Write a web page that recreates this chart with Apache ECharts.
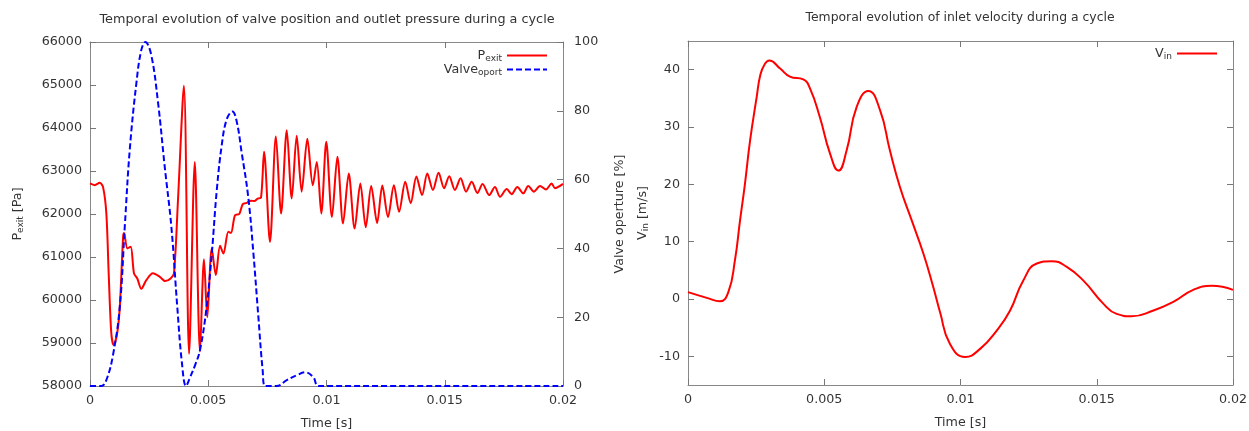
<!DOCTYPE html>
<html>
<head>
<meta charset="utf-8">
<script src="https://cdn.jsdelivr.net/npm/echarts@6/dist/echarts.min.js"></script>
<style>
html, body { margin: 0; padding: 0; background: #fff; }
#main { width: 1249px; height: 431px; }
</style>
</head>
<body>
<div id="main"></div>
<script>
// time values are in ms, axis labels show seconds
var pTime = [0, 0.2, 0.41, 0.55, 0.69, 0.79, 0.90, 1.00, 1.15, 1.26, 1.40, 1.44, 1.58, 1.72, 1.86, 2.00, 2.17, 2.38, 2.66, 2.95,
  3.18, 3.41, 3.55, 3.72, 3.97, 4.19, 4.43, 4.65, 4.82, 4.96, 5.15, 5.32, 5.50, 5.64, 5.85, 5.96, 6.13, 6.31, 6.46, 6.63,
  6.81, 6.95, 7.09, 7.23, 7.36, 7.61, 7.86, 8.08, 8.32, 8.53, 8.74, 8.95, 9.19, 9.42, 9.59, 9.78, 9.99, 10.23, 10.46, 10.70,
  10.94, 11.19, 11.43, 11.66, 11.89, 12.14, 12.36, 12.60, 12.85, 13.07, 13.33, 13.56, 13.80, 14.04, 14.26, 14.50, 14.74, 14.97, 15.19, 15.43,
  15.67, 15.90, 16.14, 16.38, 16.60, 16.88, 17.12, 17.34, 17.62, 17.83, 18.07, 18.32, 18.53, 18.77, 19.03, 19.28, 19.52, 19.66, 20.00];
var pExit = [62710, 62670, 62725, 62630, 62020, 60620, 59230, 58950, 59230, 59840, 61470, 61560, 61200, 61240, 60620, 60500, 60260, 60460, 60620, 60540,
  60440, 60500, 60620, 62320, 64980, 58750, 63210, 58800, 60950, 59600, 61200, 60580, 61260, 61080, 61590, 61560, 61970, 62000, 62230, 62260,
  62310, 62300, 62360, 62380, 63450, 61350, 63800, 62010, 63950, 62360, 63820, 62520, 63750, 62670, 63210, 62010, 63680, 61930, 63330, 61780,
  62940, 61660, 62710, 61690, 62650, 61790, 62660, 61930, 62670, 62050, 62750, 62250, 62870, 62440, 62940, 62560, 62960, 62600, 62880, 62560,
  62830, 62520, 62750, 62490, 62700, 62440, 62630, 62400, 62580, 62460, 62630, 62480, 62650, 62520, 62650, 62570, 62710, 62600, 62700];

var valveTime = [0, 0.48, 0.69, 0.97, 1.26, 1.47, 1.68, 1.96, 2.17, 2.34, 2.59, 2.88, 3.16, 3.44, 3.69, 3.89, 4.06, 4.23, 4.44, 4.65,
  4.93, 5.15, 5.36, 5.57, 5.78, 6.02, 6.20, 6.41, 6.69, 6.91, 7.12, 7.30, 7.41, 7.89, 8.32, 8.74, 9.09, 9.44, 9.67, 20];
var valveOpen = [0, 0, 1.7, 8.9, 23, 46.3, 68.6, 88, 97.7, 100, 96.2, 82.2, 63.7, 46.3, 23, 6.5, 0, 2.5, 6, 10.4,
  23, 38.5, 56.9, 70, 77.5, 79.8, 77, 68, 55, 38.5, 20, 4.6, 0, 0, 1.7, 3.1, 4, 2.6, 0, 0];

var vTime = [0, 0.69, 1.17, 1.48, 1.72, 1.91, 2.09, 2.28, 2.52, 2.66, 2.82, 2.98, 3.38, 3.74, 4.23, 4.48, 4.84, 5.21, 5.52, 5.82,
  6.19, 6.62, 7.05, 7.41, 7.78, 8.21, 8.64, 9.0, 9.25, 9.61, 10.17, 10.72, 11.33, 11.82, 12.30, 12.80, 13.35, 13.90, 14.51, 15.24,
  15.73, 16.28, 17.08, 17.81, 18.54, 19.22, 20];
var vIn = [1.2, 0.2, -0.4, 1.2, 6.7, 13.7, 20.1, 27.7, 35.2, 39.2, 41.0, 41.6, 40.2, 38.8, 38.3, 36.7, 31.7, 25.4, 22.4, 25.9,
  33.5, 36.3, 32.9, 25.9, 19.5, 13.7, 7.9, 2.1, -2.3, -7.8, -10.1, -8.7, -5.5, -2.0, 3.2, 6.2, 6.6, 5.6, 3.2, -0.8,
  -2.6, -3.0, -2.0, -0.5, 1.6, 2.3, 1.6];

var vTicks = [-10, 0, 10, 20, 30, 40];

function pairs(xs, ys) {
  return xs.map(function (x, i) { return [x, ys[i]]; });
}

var font = 'DejaVu Sans';
var txt = '#333';
var gray = '#888';
var rich = {
  n: { fontSize: 12.7, fontFamily: font, color: txt },
  s: { fontSize: 9, fontFamily: font, color: txt, padding: [6, 0, 0, 0] }
};
function plain(v) { return String(v); }
function ticks(custom) {
  var t = { show: true, inside: true, length: 6, lineStyle: { color: '#777', width: 1 } };
  if (custom) t.customValues = custom;
  return t;
}
function edgeLine() {
  return { show: true, onZero: false, lineStyle: { color: gray, width: 1 } };
}

function timeAxis(grid, top) {
  return {
    type: 'value', gridIndex: grid, position: top ? 'top' : 'bottom',
    min: 0, max: 20, interval: 5,
    axisLine: edgeLine(),
    axisTick: ticks(),
    axisLabel: {
      show: !top, margin: 8, color: txt, fontFamily: font, fontSize: 12.7,
      formatter: function (v) { return String(v / 1000); }
    },
    splitLine: { show: false },
    name: top ? '' : 'Time [s]', nameLocation: 'middle', nameGap: 31,
    nameTextStyle: { color: txt, fontFamily: font, fontSize: 12.7 }
  };
}

var chart = echarts.init(document.getElementById('main'));
chart.setOption({
  animation: false,
  backgroundColor: '#fff',
  title: [
    { text: 'Temporal evolution of valve position and outlet pressure during a cycle', left: 327, top: 13, textAlign: 'center', padding: 0,
      textStyle: { fontFamily: font, fontSize: 12.8, fontWeight: 'normal', color: txt } },
    { text: 'Temporal evolution of inlet velocity during a cycle', left: 960, top: 12, textAlign: 'center', padding: 0,
      textStyle: { fontFamily: font, fontSize: 12.4, fontWeight: 'normal', color: txt } }
  ],
  grid: [
    { left: 90, top: 42, width: 473, height: 344, show: false, outerBoundsMode: 'none', containLabel: false },
    { left: 688, top: 41, width: 545, height: 344, show: false, outerBoundsMode: 'none', containLabel: false }
  ],
  legend: [
    { data: ['Pexit', 'Valve'], orient: 'vertical', align: 'right', right: 701, top: 49, padding: 0,
      itemWidth: 40, itemHeight: 14, itemGap: 0, itemStyle: { opacity: 0 },
      formatter: function (n) { return n === 'Pexit' ? '{n|P}{s|exit}' : '{n|Valve}{s|oport}'; },
      textStyle: { rich: rich } },
    { data: ['Vin'], orient: 'vertical', align: 'right', right: 31, top: 47, padding: 0,
      itemWidth: 40, itemHeight: 14, itemStyle: { opacity: 0 },
      formatter: function () { return '{n|V}{s|in}'; },
      textStyle: { rich: rich } }
  ],
  xAxis: [timeAxis(0, false), timeAxis(0, true), timeAxis(1, false), timeAxis(1, true)],
  yAxis: [
    { type: 'value', gridIndex: 0, position: 'left', min: 58000, max: 66000, interval: 1000,
      axisLine: edgeLine(),
      axisTick: ticks(),
      axisLabel: { margin: 8, color: txt, fontFamily: font, fontSize: 12.7, formatter: plain },
      splitLine: { show: false },
      name: '{n|P}{s|exit}{n| [Pa]}', nameLocation: 'middle', nameGap: 65, nameRotate: 90,
      nameTextStyle: { rich: rich } },
    { type: 'value', gridIndex: 0, position: 'right', min: 0, max: 100, interval: 20,
      axisLine: edgeLine(),
      axisTick: ticks(),
      axisLabel: { margin: 11, color: txt, fontFamily: font, fontSize: 12.7, formatter: plain },
      splitLine: { show: false },
      name: 'Valve operture [%]', nameLocation: 'middle', nameGap: 50, nameRotate: 90,
      nameTextStyle: { color: txt, fontFamily: font, fontSize: 12.7 } },
    { type: 'value', gridIndex: 1, position: 'left', min: -15, max: 45, interval: 5,
      axisLine: edgeLine(),
      axisTick: ticks(vTicks),
      axisLabel: { margin: 8, color: txt, fontFamily: font, fontSize: 12.7, customValues: vTicks, formatter: plain },
      splitLine: { show: false },
      name: '{n|V}{s|in}{n| [m/s]}', nameLocation: 'middle', nameGap: 38, nameRotate: 90,
      nameTextStyle: { rich: rich } },
    { type: 'value', gridIndex: 1, position: 'right', min: -15, max: 45, interval: 5,
      axisLine: edgeLine(),
      axisTick: ticks(vTicks),
      axisLabel: { show: false },
      splitLine: { show: false } }
  ],
  series: [
    { name: 'Pexit', type: 'line', xAxisIndex: 0, yAxisIndex: 0, data: pairs(pTime, pExit),
      showSymbol: false, symbol: 'none', smooth: 0.3, lineStyle: { color: '#ff0000', width: 2 }, itemStyle: { color: '#ff0000' } },
    { name: 'Valve', type: 'line', xAxisIndex: 0, yAxisIndex: 1, data: pairs(valveTime, valveOpen),
      showSymbol: false, symbol: 'none', smooth: 0.4, lineStyle: { color: '#0000ff', width: 2, type: [6, 3] }, itemStyle: { color: '#0000ff' } },
    { name: 'Vin', type: 'line', xAxisIndex: 2, yAxisIndex: 2, data: pairs(vTime, vIn),
      showSymbol: false, symbol: 'none', smooth: 0.5, lineStyle: { color: '#ff0000', width: 2 }, itemStyle: { color: '#ff0000' } }
  ]
});
</script>
</body>
</html>
